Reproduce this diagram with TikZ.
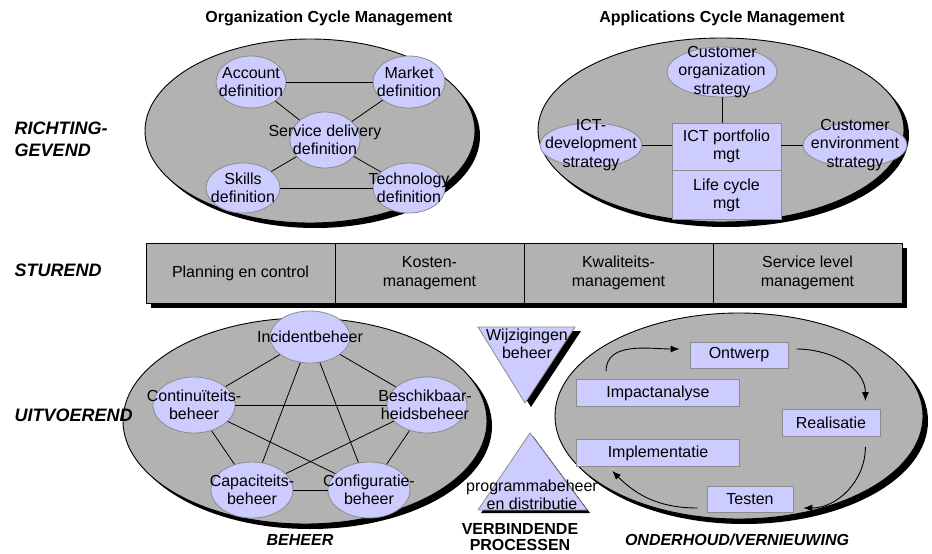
\documentclass[tikz,border=0pt]{standalone}
\usepackage{fontspec}
\setmainfont{Liberation Sans}
\usetikzlibrary{shapes.geometric,arrows.meta,positioning}
\definecolor{lav}{RGB}{204,204,255}
\definecolor{oval}{RGB}{178,178,178}
\definecolor{rim}{RGB}{140,140,140}
\tikzset{
  every node/.style={font=\fontsize{16}{18.5}\selectfont,align=center},
  proc/.style={ellipse,draw=rim,fill=lav,inner sep=0pt},
  blok/.style={rectangle,draw=rim,fill=lav,inner sep=0pt},
  cel/.style={rectangle,draw,fill=oval,minimum width=189,minimum height=60,inner sep=0pt},
  laag/.style={font=\fontsize{18}{22}\selectfont\bfseries\itshape,anchor=west,align=left},
  kop/.style={font=\fontsize{16}{16}\selectfont\bfseries},
  kopi/.style={font=\fontsize{16}{16}\selectfont\bfseries\itshape},
  pijl/.style={-{Latex[length=9pt,width=7pt]},line width=0.9pt},
}
% ellips met losse tekst (tekst mag buiten de rand lopen)
\newcommand\bol[5]{\node[proc,minimum width=#3,minimum height=#4] (#1) at (#2) {};
  \node (#1t) at (#1) {#5};}
% grote grijze ovaal met zwarte schaduw
\newcommand\ovaal[3]{\fill (#1) ++(5,5) ellipse [x radius=#2,y radius=#3];
  \filldraw[fill=oval,line width=0.9pt] (#1) ellipse [x radius=#2,y radius=#3];}
\begin{document}
\begin{tikzpicture}[x=1pt,y=-1pt,line width=0.8pt]
\useasboundingbox (0,0) rectangle (932,554);
%
\node[kop] (ocm) at (329,18) {Organization Cycle Management};
\node[kop] (acm) at (722,18) {Applications Cycle Management};
%========================== organization
\ovaal{310,131}{165}{92}
\bol{acc}{251,82}{70}{52}{Account\\definition}
\bol{mkt}{409,82}{72}{52}{Market\\definition}
\bol{sdd}{325,140}{70}{56}{Service delivery\\definition}
\bol{skl}{243,188}{74}{50}{Skills\\definition}
\bol{tec}{409,188}{72}{50}{Technology\\definition}
\draw (acc)--(mkt) (skl)--(tec);
\foreach \n in {acc,mkt,skl,tec}{\draw (\n)--(sdd);}
%========================== applications
\ovaal{721,130}{183}{92}
\bol{cos}{722,72}{110}{50}{Customer\\organization\\strategy}
\bol{ict}{591,145}{102}{44}{ICT-\\development\\strategy}
\bol{env}{855,145}{104}{44}{Customer\\environment\\strategy}
\node[blok,minimum width=109,minimum height=47] (pfm) at (726.5,146.5) {ICT portfolio\\mgt};
\node[blok,minimum width=109,minimum height=49,below=0pt of pfm] (lcm) {Life cycle\\mgt};
\draw (cos.south)--(cos.south |- pfm.north);
\draw (ict.east)--(ict.east -| pfm.west);
\draw (env.west -| pfm.east)--(env.west);
%========================== sturend
\fill (151,248) rectangle (907,308);
\foreach \n/\t [count=\i from 0] in {pec/{Planning en control},kos/{Kosten-\\management},kwa/{Kwaliteits-\\management},slm/{Service level\\management}}{
  \node[cel] (\n) at ({240.5+189*\i},273) {\t};}
%========================== beheer
\ovaal{305,421}{182}{103}
\bol{ib}{310,337}{80}{52}{Incidentbeheer}
\bol{cb}{194,405}{82}{56}{Continuïteits-\\beheer}
\bol{bb}{427,405}{80}{56}{}
\node (bbt) at (425,405) {Beschikbaar-\\heidsbeheer};
\bol{kb}{252,490}{82}{56}{Capaciteits-\\beheer}
\bol{fb}{369,490}{82}{56}{Configuratie-\\beheer}
\foreach \a/\b in {ib/cb,ib/bb,ib/kb,ib/fb,cb/bb,cb/kb,cb/fb,bb/kb,bb/fb,kb/fb}{\draw (\a)--(\b);}
\node[kopi] (bh) at (300,540) {BEHEER};
%========================== verbindend
\fill (484,331)--(581,331)--(531,407)--cycle;
\filldraw[fill=lav,draw=rim] (478,327)--(575,327)--(525,403)--cycle;
\node (wzb) at (527,344) {Wijzigingen\\beheer};
\fill (533,436)--(590,513)--(481,513)--cycle;
\filldraw[fill=lav,draw=rim] (530,433)--(587,510)--(478,510)--cycle;
\node (pgd) at (532,495) {programmabeheer\\en distributie};
\node[kop] (vp) at (520,537) {VERBINDENDE\\PROCESSEN};
%========================== onderhoud
\ovaal{739,416}{184}{103}
\node[blok,minimum width=98,minimum height=26] (ont) at (739,355) {Ontwerp};
\node[blok,minimum width=163,minimum height=27] (imp) at (658,393) {Impactanalyse};
\node[blok,minimum width=98,minimum height=27] (rea) at (831,423) {Realisatie};
\node[blok,minimum width=163,minimum height=27] (imt) at (658,453) {Implementatie};
\node[blok,minimum width=86,minimum height=26] (tst) at (750,499) {Testen};
\draw[pijl] ([xshift=30pt,yshift=8pt]imp.north west) to[out=90,in=180] ([xshift=-10pt,yshift=6pt]ont.west);
\draw[pijl] ([xshift=8pt,yshift=6pt]ont.east) to[out=0,in=90] ([xshift=-15pt,yshift=8pt]rea.north east);
\draw[pijl] ([xshift=-15pt,yshift=-10pt]rea.south east) to[out=-90,in=0] ([xshift=10pt,yshift=-9pt]tst.east);
\draw[pijl] ([xshift=-9pt,yshift=-9pt]tst.west) to[out=180,in=-45] ([xshift=36pt,yshift=-4pt]imt.south west);
\node[kopi] (ov) at (737,540) {ONDERHOUD/VERNIEUWING};
%========================== lagen
\node[laag] (rg) at (11,139) {RICHTING-\\GEVEND};
\node[laag] (st) at (11,270) {STUREND};
\node[laag] (uv) at (11,415) {UITVOEREND};
\end{tikzpicture}
\end{document}
